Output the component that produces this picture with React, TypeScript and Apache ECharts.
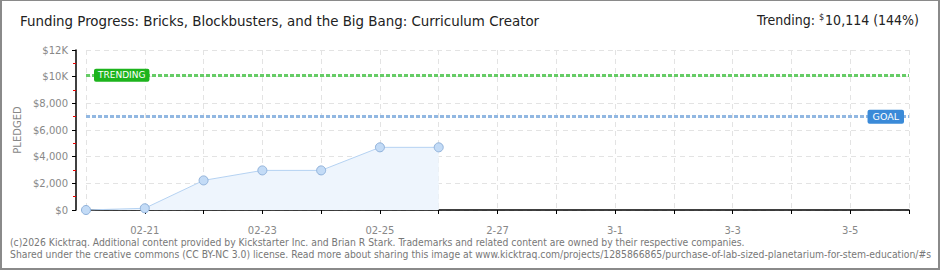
import React, { useEffect, useRef } from "react";
import * as echarts from "echarts";

const categories = ["02-20","02-21","02-22","02-23","02-24","02-25","02-26","2-27","2-28","3-1","3-2","3-3","3-4","3-5","3-6"];
const pledged: (number | null)[] = [0, 130, 2220, 2970, 2970, 4700, 4700, null, null, null, null, null, null, null, null];
const trendingValue = 10114;
const goalValue = 7000;
const titleText = "Funding Progress: Bricks, Blockbusters, and the Big Bang: Curriculum Creator";
const footer1 = "(c)2026 Kicktraq. Additional content provided by Kickstarter Inc. and Brian R Stark. Trademarks and related content are owned by their respective companies.";
const footer2 = "Shared under the creative commons (CC BY-NC 3.0) license. Read more about sharing this image at www.kicktraq.com/projects/1285866865/purchase-of-lab-sized-planetarium-for-stem-education/#s";

export default function App() {
  const ref = useRef<HTMLDivElement>(null);
  useEffect(() => {
    if (!ref.current) return;
    const chart = echarts.init(ref.current, undefined, { renderer: "svg" });
    const pix = "DejaVu Sans";
    chart.setOption({
      animation: false,
      backgroundColor: "#fff",
      grid: { left: 86, right: 31, top: 50, bottom: 60, containLabel: false },
      graphic: [
        { type: "text", left: 20, top: 13, style: { text: titleText, font: "14.9px 'DejaVu Sans Condensed'", fill: "#222" } },
        {
          type: "text", right: 21, top: 12,
          style: {
            text: "{a|Trending: }{s|$}{a|10,114 (144%)}",
            rich: {
              a: { font: "14px 'DejaVu Sans Condensed'", fill: "#222", verticalAlign: "bottom" },
              s: { font: "9px 'DejaVu Sans Condensed'", fill: "#222", verticalAlign: "top", padding: [0, 1, 6, 0] },
            },
          },
        },
        { type: "text", left: 10, top: 237, style: { text: footer1, font: "10.3px 'DejaVu Sans Condensed'", fill: "#777" } },
        { type: "text", left: 10, top: 249, style: { text: footer2, font: "10.3px 'DejaVu Sans Condensed'", fill: "#777" } },
      ],
      xAxis: {
        type: "category",
        data: categories,
        boundaryGap: false,
        offset: 10,
        axisLine: { lineStyle: { color: "#000", width: 1.5 } },
        axisTick: { show: true, interval: 0, length: 4, lineStyle: { color: "#000" } },
        axisLabel: { interval: (i: number) => i % 2 === 1, color: "#888", fontFamily: pix, fontSize: 10, margin: 5 },
        splitLine: { show: true, interval: 0, lineStyle: { color: "#e3e3e3", type: [5, 4] } },
      },
      yAxis: {
        type: "value",
        min: 0, max: 12000, interval: 2000,
        offset: 10,
        name: "PLEDGED",
        nameLocation: "middle",
        nameGap: 49,
        nameTextStyle: { color: "#888", fontFamily: pix, fontSize: 10 },
        axisLine: { show: true, lineStyle: { color: "#000", width: 1.5 } },
        axisTick: { show: true, length: 4, lineStyle: { color: "#000" } },
        minorTick: { show: true, splitNumber: 2, length: 3, lineStyle: { color: "#e00" } },
        axisLabel: {
          color: "#888", fontFamily: pix, fontSize: 10, margin: 8,
          formatter: (v: number) => (v >= 10000 ? `$${v / 1000}K` : `$${v.toLocaleString("en-US")}`),
        },
        splitLine: { show: true, lineStyle: { color: "#e3e3e3", type: [5, 4] } },
      },
      series: [
        {
          type: "line",
          data: pledged,
          symbol: "circle",
          symbolSize: 9,
          lineStyle: { color: "#b5d2f2", width: 1 },
          itemStyle: { color: "#c3dbf6", borderColor: "#8fb1da", borderWidth: 1 },
          areaStyle: { color: "#eef5fd", opacity: 1 },
          markLine: {
            silent: true,
            symbol: "none",
            data: [
              {
                yAxis: trendingValue,
                lineStyle: { color: "#66cc66", width: 3, type: [4, 2] },
                label: {
                  show: true, formatter: "TRENDING", position: "insideStart", distance: [8, 0],
                  verticalAlign: "middle", color: "#fff", fontFamily: pix, fontSize: 9,
                  backgroundColor: "#1db41d", padding: [2, 4, 2, 4], borderRadius: 2,
                },
              },
              {
                yAxis: goalValue,
                lineStyle: { color: "#92b8e2", width: 3, type: [4, 2] },
                label: {
                  show: true, formatter: "GOAL", position: "insideEnd", distance: [5, 0],
                  verticalAlign: "middle", color: "#fff", fontFamily: pix, fontSize: 9.5,
                  backgroundColor: "#3a8ad8", padding: [2, 5, 2, 5], borderRadius: 2,
                },
              },
            ],
          },
        },
      ],
    });
    return () => chart.dispose();
  }, []);
  return (
    <div style={{ position: "fixed", left: 0, top: 0, width: 940, height: 270 }}>
      <div ref={ref} style={{ position: "absolute", left: 0, top: 0, width: 940, height: 270 }} />
      <div style={{ position: "absolute", left: 0, top: 0, width: 940, height: 270, boxSizing: "border-box", borderStyle: "solid", borderColor: "#8a8a8a", borderWidth: "1px 2px 2px 2px", pointerEvents: "none" }} />
    </div>
  );
}
